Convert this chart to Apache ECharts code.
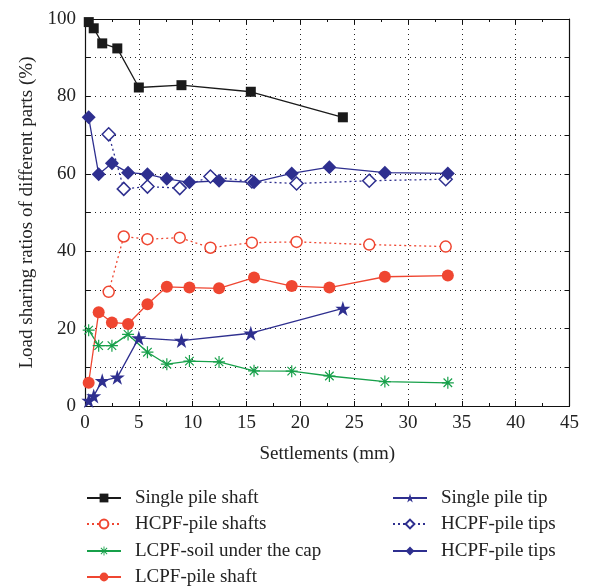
<!DOCTYPE html>
<html>
<head>
<meta charset="utf-8">
<script src="https://cdn.jsdelivr.net/npm/echarts@6/dist/echarts.min.js"></script>
<style>html,body{margin:0;padding:0;background:#fff}#c{width:590px;height:588px}</style>
</head>
<body>
<div id="c"></div>
<script>
// Single pile
const singleX = [0.35, 0.81, 1.6, 3.0, 5.0, 8.96, 15.4, 23.95];
const singleShaft = [99.2, 97.6, 93.7, 92.4, 82.3, 82.9, 81.2, 74.6];
const singleTip = [1.4, 2.6, 6.5, 7.4, 17.6, 16.9, 18.8, 25.2];
// HCPF
const hcpfX = [2.2, 3.6, 5.8, 8.8, 11.65, 15.5, 19.65, 26.4, 33.5];
const hcpfShafts = [29.5, 43.8, 43.1, 43.5, 40.9, 42.2, 42.4, 41.7, 41.2];
const hcpfTipsOpen = [70.2, 56.1, 56.7, 56.3, 59.3, 58.0, 57.5, 58.2, 58.6];
// LCPF
const lcpfX = [0.34, 1.27, 2.5, 4.0, 5.8, 7.6, 9.7, 12.45, 15.7, 19.2, 22.7, 27.85, 33.7];
const lcpfSoil = [19.6, 15.6, 15.6, 18.5, 13.9, 10.8, 11.6, 11.4, 9.1, 9.0, 7.75, 6.3, 6.0];
const lcpfShaft = [6.0, 24.2, 21.6, 21.2, 26.3, 30.8, 30.6, 30.4, 33.2, 31.0, 30.6, 33.4, 33.7];
const hcpfTipsFilled = [74.6, 59.9, 62.7, 60.3, 59.9, 58.7, 57.8, 58.2, 57.8, 60.1, 61.7, 60.3, 60.1];

const names = ['Single pile shaft', 'HCPF-pile shafts', 'LCPF-soil under the cap', 'LCPF-pile shaft',
  'Single pile tip', 'HCPF-pile tips', 'HCPF-pile tips '];

const pair = (xs, ys) => xs.map((x, i) => [x, ys[i]]);
const FONT = 'Liberation Serif';
const BLACK = '#1a1a1a', RED = '#ef4631', GREEN = '#17a04a', BLUE = '#2e2f8f';
const asterisk = 'path://M9,0h2v20h-2z M0,9h20v2h-20z M2.2,3.6L3.6,2.2L17.8,16.4L16.4,17.8z M16.4,2.2L17.8,3.6L3.6,17.8L2.2,16.4z';

function line(name, data, color, symbol, size, opts) {
  return Object.assign({
    name, type: 'line', data, symbol, symbolSize: size,
    lineStyle: { color, width: 1.3 },
    itemStyle: { color, borderColor: color, borderWidth: 0 },
    animation: false, z: 3
  }, opts || {});
}

const gridLine = { show: true, lineStyle: { color: '#222', type: [1, 4], width: 1 } };
const axisLine = { show: true, onZero: false, lineStyle: { color: '#111', width: 1.2 } };
const rowTops = [488, 514, 541, 567];
const legends = names.map((n, i) => ({
  data: [n], orient: 'vertical', padding: 0,
  left: i < 4 ? 86 : 392, top: rowTops[i < 4 ? i : i - 4],
  itemWidth: 34, itemHeight: 11,
  textStyle: { fontFamily: FONT, fontSize: 19, color: '#222', lineHeight: 20, padding: [0, 0, 0, 9] },
  selectedMode: false
}));

const option = {
  backgroundColor: '#fff',
  textStyle: { fontFamily: FONT },
  grid: { left: 85, right: 20.5, top: 19, bottom: 182 },
  xAxis: [{
    type: 'value', min: 0, max: 45, interval: 5,
    name: 'Settlements (mm)', nameLocation: 'middle', nameGap: 39,
    nameTextStyle: { fontFamily: FONT, fontSize: 19, color: '#222' },
    axisLine, axisTick: { inside: true, length: 5, lineStyle: { color: '#111' } },
    minorTick: { show: true, splitNumber: 2, length: 3, lineStyle: { color: '#111' } },
    axisLabel: { fontFamily: FONT, fontSize: 19, color: '#222', margin: 8 },
    splitLine: gridLine
  }, {
    type: 'value', min: 0, max: 45, interval: 5, position: 'top',
    axisLine, axisTick: { inside: true, length: 5, lineStyle: { color: '#111' } },
    minorTick: { show: true, splitNumber: 2, length: 3, lineStyle: { color: '#111' } },
    axisLabel: { show: false }, splitLine: { show: false }
  }],
  yAxis: [{
    type: 'value', min: 0, max: 100, interval: 10,
    name: 'Load sharing ratios of different parts (%)', nameLocation: 'middle', nameGap: 43,
    nameTextStyle: { fontFamily: FONT, fontSize: 19, color: '#222' },
    axisLine, axisTick: { inside: true, length: 5, lineStyle: { color: '#111' } },
    axisLabel: { fontFamily: FONT, fontSize: 19, color: '#222', margin: 9,
      formatter: v => (v % 20 === 0 ? String(v) : '') },
    splitLine: gridLine
  }, {
    type: 'value', min: 0, max: 100, interval: 10, position: 'right',
    axisLine, axisTick: { inside: true, length: 5, lineStyle: { color: '#111' } },
    axisLabel: { show: false }, splitLine: { show: false }
  }],
  legend: legends,
  series: [
    line(names[0], pair(singleX, singleShaft), BLACK, 'rect', 10),
    line(names[1], pair(hcpfX, hcpfShafts), RED, 'circle', 11,
      { lineStyle: { color: RED, width: 1.3, type: [2, 3] },
        itemStyle: { color: '#fff', borderColor: RED, borderWidth: 1.5 } }),
    line(names[2], pair(lcpfX, lcpfSoil), GREEN, asterisk, 12),
    line(names[3], pair(lcpfX, lcpfShaft), RED, 'circle', 12),
    line(names[4], pair(singleX, singleTip), BLUE, 'path://M10,0L12.35,7.2L19.9,7.2L13.8,11.6L16.2,18.8L10,14.4L3.8,18.8L6.2,11.6L0.1,7.2L7.65,7.2z', 15),
    line(names[5], pair(hcpfX, hcpfTipsOpen), BLUE, 'diamond', 13,
      { lineStyle: { color: BLUE, width: 1.3, type: [2, 3] },
        itemStyle: { color: '#fff', borderColor: BLUE, borderWidth: 1.5 } }),
    line(names[6], pair(lcpfX, hcpfTipsFilled), BLUE, 'diamond', 14)
  ]
};

const chart = echarts.init(document.getElementById('c'), null, { renderer: 'canvas' });
chart.setOption(option);
</script>
</body>
</html>
